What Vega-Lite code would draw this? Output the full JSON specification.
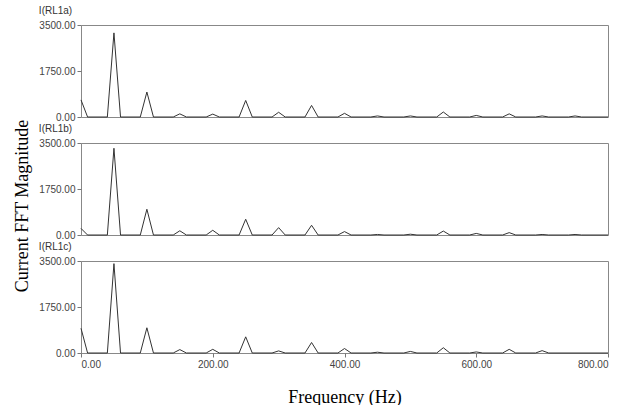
{
  "$schema": "https://vega.github.io/schema/vega-lite/v6.json",
  "background": "white",
  "padding": {"left": 14, "top": 5, "right": 5, "bottom": 0},
  "title": {"text": "Current FFT Magnitude", "orient": "left", "anchor": "middle", "font": "Liberation Serif", "fontSize": 18, "fontWeight": "normal", "color": "#000", "offset": 6},
  "spacing": 0,
  "datasets": {
    "d": [
      {"p": "a", "f": 0, "v": 650}, {"p": "a", "f": 10, "v": 0}, {"p": "a", "f": 40, "v": 0}, {"p": "a", "f": 50, "v": 3200}, {"p": "a", "f": 60, "v": 0},
      {"p": "a", "f": 90, "v": 0}, {"p": "a", "f": 100, "v": 950}, {"p": "a", "f": 110, "v": 0},
      {"p": "a", "f": 140, "v": 0}, {"p": "a", "f": 150, "v": 120}, {"p": "a", "f": 160, "v": 0},
      {"p": "a", "f": 190, "v": 0}, {"p": "a", "f": 200, "v": 110}, {"p": "a", "f": 210, "v": 0},
      {"p": "a", "f": 240, "v": 0}, {"p": "a", "f": 250, "v": 630}, {"p": "a", "f": 260, "v": 0},
      {"p": "a", "f": 290, "v": 0}, {"p": "a", "f": 300, "v": 180}, {"p": "a", "f": 310, "v": 0},
      {"p": "a", "f": 340, "v": 0}, {"p": "a", "f": 350, "v": 440}, {"p": "a", "f": 360, "v": 0},
      {"p": "a", "f": 390, "v": 0}, {"p": "a", "f": 400, "v": 140}, {"p": "a", "f": 410, "v": 0},
      {"p": "a", "f": 440, "v": 0}, {"p": "a", "f": 450, "v": 40}, {"p": "a", "f": 460, "v": 0},
      {"p": "a", "f": 490, "v": 0}, {"p": "a", "f": 500, "v": 40}, {"p": "a", "f": 510, "v": 0},
      {"p": "a", "f": 540, "v": 0}, {"p": "a", "f": 550, "v": 190}, {"p": "a", "f": 560, "v": 0},
      {"p": "a", "f": 590, "v": 0}, {"p": "a", "f": 600, "v": 60}, {"p": "a", "f": 610, "v": 0},
      {"p": "a", "f": 640, "v": 0}, {"p": "a", "f": 650, "v": 120}, {"p": "a", "f": 660, "v": 0},
      {"p": "a", "f": 690, "v": 0}, {"p": "a", "f": 700, "v": 40}, {"p": "a", "f": 710, "v": 0},
      {"p": "a", "f": 740, "v": 0}, {"p": "a", "f": 750, "v": 40}, {"p": "a", "f": 760, "v": 0},
      {"p": "a", "f": 800, "v": 0},

      {"p": "b", "f": 0, "v": 250}, {"p": "b", "f": 10, "v": 0}, {"p": "b", "f": 40, "v": 0}, {"p": "b", "f": 50, "v": 3300}, {"p": "b", "f": 60, "v": 0},
      {"p": "b", "f": 90, "v": 0}, {"p": "b", "f": 100, "v": 980}, {"p": "b", "f": 110, "v": 0},
      {"p": "b", "f": 140, "v": 0}, {"p": "b", "f": 150, "v": 160}, {"p": "b", "f": 160, "v": 0},
      {"p": "b", "f": 190, "v": 0}, {"p": "b", "f": 200, "v": 180}, {"p": "b", "f": 210, "v": 0},
      {"p": "b", "f": 240, "v": 0}, {"p": "b", "f": 250, "v": 600}, {"p": "b", "f": 260, "v": 0},
      {"p": "b", "f": 290, "v": 0}, {"p": "b", "f": 300, "v": 280}, {"p": "b", "f": 310, "v": 0},
      {"p": "b", "f": 340, "v": 0}, {"p": "b", "f": 350, "v": 370}, {"p": "b", "f": 360, "v": 0},
      {"p": "b", "f": 390, "v": 0}, {"p": "b", "f": 400, "v": 130}, {"p": "b", "f": 410, "v": 0},
      {"p": "b", "f": 440, "v": 0}, {"p": "b", "f": 450, "v": 20}, {"p": "b", "f": 460, "v": 0},
      {"p": "b", "f": 490, "v": 0}, {"p": "b", "f": 500, "v": 30}, {"p": "b", "f": 510, "v": 0},
      {"p": "b", "f": 540, "v": 0}, {"p": "b", "f": 550, "v": 150}, {"p": "b", "f": 560, "v": 0},
      {"p": "b", "f": 590, "v": 0}, {"p": "b", "f": 600, "v": 60}, {"p": "b", "f": 610, "v": 0},
      {"p": "b", "f": 640, "v": 0}, {"p": "b", "f": 650, "v": 90}, {"p": "b", "f": 660, "v": 0},
      {"p": "b", "f": 690, "v": 0}, {"p": "b", "f": 700, "v": 20}, {"p": "b", "f": 710, "v": 0},
      {"p": "b", "f": 740, "v": 0}, {"p": "b", "f": 750, "v": 20}, {"p": "b", "f": 760, "v": 0},
      {"p": "b", "f": 800, "v": 0},

      {"p": "c", "f": 0, "v": 940}, {"p": "c", "f": 10, "v": 0}, {"p": "c", "f": 40, "v": 0}, {"p": "c", "f": 50, "v": 3400}, {"p": "c", "f": 60, "v": 0},
      {"p": "c", "f": 90, "v": 0}, {"p": "c", "f": 100, "v": 960}, {"p": "c", "f": 110, "v": 0},
      {"p": "c", "f": 140, "v": 0}, {"p": "c", "f": 150, "v": 130}, {"p": "c", "f": 160, "v": 0},
      {"p": "c", "f": 190, "v": 0}, {"p": "c", "f": 200, "v": 140}, {"p": "c", "f": 210, "v": 0},
      {"p": "c", "f": 240, "v": 0}, {"p": "c", "f": 250, "v": 615}, {"p": "c", "f": 260, "v": 0},
      {"p": "c", "f": 290, "v": 0}, {"p": "c", "f": 300, "v": 80}, {"p": "c", "f": 310, "v": 0},
      {"p": "c", "f": 340, "v": 0}, {"p": "c", "f": 350, "v": 400}, {"p": "c", "f": 360, "v": 0},
      {"p": "c", "f": 390, "v": 0}, {"p": "c", "f": 400, "v": 170}, {"p": "c", "f": 410, "v": 0},
      {"p": "c", "f": 440, "v": 0}, {"p": "c", "f": 450, "v": 30}, {"p": "c", "f": 460, "v": 0},
      {"p": "c", "f": 490, "v": 0}, {"p": "c", "f": 500, "v": 60}, {"p": "c", "f": 510, "v": 0},
      {"p": "c", "f": 540, "v": 0}, {"p": "c", "f": 550, "v": 200}, {"p": "c", "f": 560, "v": 0},
      {"p": "c", "f": 590, "v": 0}, {"p": "c", "f": 600, "v": 40}, {"p": "c", "f": 610, "v": 0},
      {"p": "c", "f": 640, "v": 0}, {"p": "c", "f": 650, "v": 140}, {"p": "c", "f": 660, "v": 0},
      {"p": "c", "f": 690, "v": 0}, {"p": "c", "f": 700, "v": 90}, {"p": "c", "f": 710, "v": 0},
      {"p": "c", "f": 800, "v": 0}
    ]
  },
  "vconcat": [
    {
      "width": 527, "height": 92,
      "title": {"text": "I(RL1a)"},
      "data": {"name": "d"},
      "transform": [{"filter": "datum.p === 'a'"}],
      "mark": {"type": "line", "color": "#333", "strokeWidth": 1},
      "encoding": {
        "x": {"field": "f", "type": "quantitative", "scale": {"domain": [0, 800]}, "axis": null},
        "y": {"field": "v", "type": "quantitative", "scale": {"domain": [0, 3500]}, "axis": {"values": [0, 1750, 3500], "format": ".2f", "title": null}}
      }
    },
    {
      "width": 527, "height": 92,
      "title": {"text": "I(RL1b)"},
      "data": {"name": "d"},
      "transform": [{"filter": "datum.p === 'b'"}],
      "mark": {"type": "line", "color": "#333", "strokeWidth": 1},
      "encoding": {
        "x": {"field": "f", "type": "quantitative", "scale": {"domain": [0, 800]}, "axis": null},
        "y": {"field": "v", "type": "quantitative", "scale": {"domain": [0, 3500]}, "axis": {"values": [0, 1750, 3500], "format": ".2f", "title": null}}
      }
    },
    {
      "width": 527, "height": 92,
      "title": {"text": "I(RL1c)"},
      "data": {"name": "d"},
      "transform": [{"filter": "datum.p === 'c'"}],
      "mark": {"type": "line", "color": "#333", "strokeWidth": 1},
      "encoding": {
        "x": {"field": "f", "type": "quantitative", "scale": {"domain": [0, 800]}, "axis": {"values": [0, 200, 400, 600, 800], "format": ".2f", "title": "Frequency (Hz)", "titleFont": "Liberation Serif", "titleFontSize": 18, "titleFontWeight": "normal", "titleColor": "#000", "titlePadding": 19}},
        "y": {"field": "v", "type": "quantitative", "scale": {"domain": [0, 3500]}, "axis": {"values": [0, 1750, 3500], "format": ".2f", "title": null}}
      }
    }
  ],
  "config": {
    "view": {"stroke": "#888", "strokeWidth": 1},
    "axis": {"domain": false, "grid": false, "labelFont": "Liberation Sans", "labelFontSize": 10, "labelColor": "#444", "tickColor": "#777", "tickSize": 4, "labelPadding": 2},
    "title": {"font": "Liberation Sans", "fontSize": 10, "fontWeight": "normal", "anchor": "start", "offset": 0, "color": "#333"}
  }
}
